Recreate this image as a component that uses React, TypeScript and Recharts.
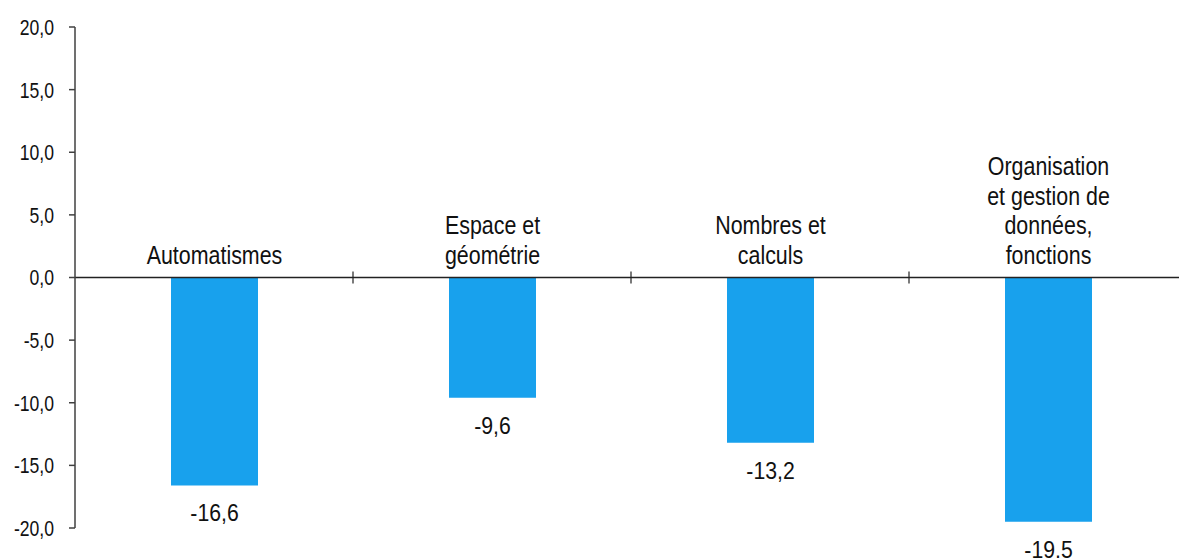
import React from "react";
import {
  ComposedChart,
  Bar,
  XAxis,
  YAxis,
  LabelList,
  ReferenceLine,
} from "recharts";

const categories: string[][] = [
  ["Automatismes"],
  ["Espace et", "géométrie"],
  ["Nombres et", "calculs"],
  ["Organisation", "et gestion de", "données,", "fonctions"],
];
const values = [-16.6, -9.6, -13.2, -19.5];
const yTicks = [-20, -15, -10, -5, 0, 5, 10, 15, 20];

const data = categories.map((lines, i) => ({
  name: lines.join("\n"),
  value: values[i],
}));

const BAR_COLOR = "#18a1ed";
const FONT = "'Liberation Sans', Arial, sans-serif";

const fmt = (v: number) => v.toFixed(1).replace(".", ",");

// the source text is horizontally squeezed, so scale x a bit
function CategoryLabel(props: any) {
  const { x, y, width, height, value } = props;
  const top = Math.min(y, y + height);
  const lines = String(value).split("\n");
  const lh = 29.5;
  const cx = x + width / 2;
  return (
    <g>
      {lines.map((l, i) => (
        <text
          key={i}
          transform={`translate(${cx},${top - 14 - (lines.length - 1 - i) * lh}) scale(0.84,1)`}
          textAnchor="middle"
          fontFamily={FONT}
          fontSize={25.5}
          fill="#111"
        >
          {l}
        </text>
      ))}
    </g>
  );
}

function ValueLabel(props: any) {
  const { x, y, width, height, value } = props;
  const bottom = Math.max(y, y + height);
  return (
    <text
      transform={`translate(${x + width / 2},${bottom + 36}) scale(0.86,1)`}
      textAnchor="middle"
      fontFamily={FONT}
      fontSize={24.7}
      fill="#111"
    >
      {fmt(Number(value))}
    </text>
  );
}

function YTick(props: any) {
  const { x, y, payload } = props;
  return (
    <text
      transform={`translate(${x},${y}) scale(0.8,1)`}
      textAnchor="end"
      dy="0.36em"
      fontFamily={FONT}
      fontSize={22}
      fill="#111"
    >
      {fmt(Number(payload.value))}
    </text>
  );
}

// zero line with small cross ticks between the categories
function ZeroLine(props: any) {
  const { x1, y1, x2, y2 } = props;
  const n = categories.length;
  const step = (x2 - x1) / n;
  return (
    <g>
      <line x1={x1} y1={y1} x2={x2} y2={y2} stroke="#222" strokeWidth={1.5} />
      {categories.slice(1).map((_, i) => {
        const xx = x1 + step * (i + 1);
        return (
          <line
            key={i}
            x1={xx}
            x2={xx}
            y1={y1 - 6}
            y2={y1 + 6}
            stroke="#222"
            strokeWidth={1.2}
          />
        );
      })}
    </g>
  );
}

export default function App() {
  return (
    <div
      style={{
        position: "absolute",
        left: 0,
        top: 0,
        width: 1179,
        height: 558,
        overflow: "hidden",
        background: "#fff",
      }}
    >
      <ComposedChart
        width={1190}
        height={558}
        data={data}
        margin={{ top: 27, right: 3, bottom: 30, left: 0 }}
      >
        <XAxis dataKey="name" hide />
        <YAxis
          width={75}
          domain={[-20, 20]}
          ticks={yTicks}
          interval={0}
          tickSize={6}
          tickMargin={15}
          axisLine={{ stroke: "#404040", strokeWidth: 1.5 }}
          tickLine={{ stroke: "#404040", strokeWidth: 1.5 }}
          tick={<YTick />}
        />
        <Bar dataKey="value" fill={BAR_COLOR} barSize={87} isAnimationActive={false}>
          <LabelList dataKey="name" content={CategoryLabel} />
          <LabelList dataKey="value" content={ValueLabel} />
        </Bar>
        <ReferenceLine y={0} shape={ZeroLine} />
      </ComposedChart>
    </div>
  );
}
